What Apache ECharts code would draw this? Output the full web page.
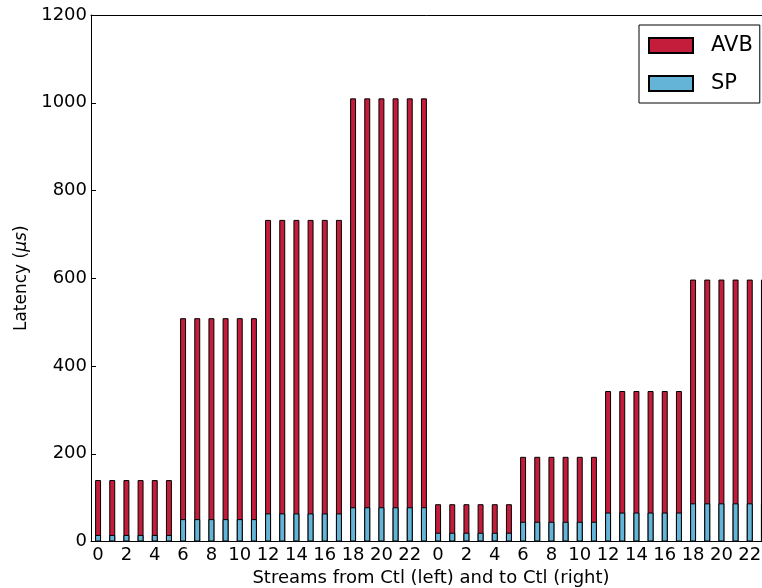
<!DOCTYPE html>
<html>
<head>
<meta charset="utf-8">
<script src="https://cdn.jsdelivr.net/npm/echarts@6/dist/echarts.min.js"></script>
<style>
  html, body { margin: 0; padding: 0; background: #fff; }
  #chart { width: 762px; height: 588px; }
</style>
</head>
<body>
<div id="chart"></div>
<script>
// stream ids, left half = from Ctl, right half = to Ctl
var streams = ['0','1','2','3','4','5','6','7','8','9','10','11','12','13','14','15','16','17','18','19','20','21','22','23',
               '0','1','2','3','4','5','6','7','8','9','10','11','12','13','14','15','16','17','18','19','20','21','22','23'];

// latency in us
var avb = [140,140,140,140,140,140, 509,509,509,509,509,509, 733,733,733,733,733,733, 1010,1010,1010,1010,1010,1010,
           85,85,85,85,85,85, 193,193,193,193,193,193, 343,343,343,343,343,343, 597,597,597,597,597,597];
var sp  = [15,15,15,15,15,15, 51,51,51,51,51,51, 64,64,64,64,64,64, 78,78,78,78,78,78,
           20,20,20,20,20,20, 45,45,45,45,45,45, 66,66,66,66,66,66, 87,87,87,87,87,87];

var yTicks = [0, 200, 400, 600, 800, 1000, 1200];

var font = 'DejaVu Sans';
var chart = echarts.init(document.getElementById('chart'));

var option = {
    animation: false,
    textStyle: { fontFamily: font },
    // plot runs past the right edge of the picture, like the cropped original
    grid: { left: 91, top: 15, height: 526.5, width: 680, outerBoundsMode: 'none', containLabel: false },
    legend: {
        orient: 'vertical',
        left: 639,
        top: 25,
        padding: [10, 7, 9, 9],
        itemGap: 17,
        itemWidth: 44,
        itemHeight: 15,
        borderColor: '#000',
        borderWidth: 1,
        borderRadius: 0,
        icon: 'rect',
        textStyle: { fontFamily: font, fontSize: 21, color: '#000', padding: [0, 0, 0, 13] },
        data: ['AVB', 'SP']
    },
    xAxis: [{
        type: 'category',
        data: streams,
        name: 'Streams from Ctl (left) and to Ctl (right)',
        nameLocation: 'middle',
        nameGap: 27,
        nameTextStyle: { fontFamily: font, fontSize: 18, color: '#000' },
        axisLine: { lineStyle: { color: '#000', width: 1 } },
        axisTick: { inside: true, length: 5, interval: 1, alignWithLabel: true, lineStyle: { color: '#000' } },
        axisLabel: { interval: 1, fontFamily: font, fontSize: 18, color: '#000', margin: 5, hideOverlap: false },
        splitLine: { show: false }
    }, {
        type: 'category',
        data: streams,
        position: 'top',
        axisLine: { lineStyle: { color: '#000', width: 1 } },
        axisTick: { inside: true, length: 5, interval: 1, alignWithLabel: true, lineStyle: { color: '#000' } },
        axisLabel: { show: false },
        splitLine: { show: false }
    }],
    yAxis: {
        type: 'value',
        min: yTicks[0],
        max: yTicks[yTicks.length - 1],
        interval: 200,
        name: '{a|Latency (}{b|μs}{a|)}',
        nameLocation: 'middle',
        nameGap: 60,
        nameRotate: 90,
        nameTextStyle: {
            rich: {
                a: { fontFamily: font, fontSize: 17, color: '#000' },
                b: { fontFamily: font, fontSize: 17, fontStyle: 'italic', color: '#000' }
            }
        },
        axisLine: { show: true, lineStyle: { color: '#000', width: 1 } },
        axisTick: { show: true, inside: true, length: 5, lineStyle: { color: '#000' } },
        axisLabel: {
            fontFamily: font, fontSize: 18, color: '#000', margin: 4,
            formatter: function (v) { return String(v); }
        },
        splitLine: { show: false }
    },
    series: [{
        name: 'AVB',
        type: 'bar',
        data: avb,
        barWidth: '42%',
        barGap: '-100%',
        itemStyle: { color: '#c41d3b', borderColor: '#000', borderWidth: 1 }
    }, {
        name: 'SP',
        type: 'bar',
        data: sp,
        barWidth: '42%',
        barGap: '-100%',
        itemStyle: { color: '#63b4d6', borderColor: '#000', borderWidth: 1 }
    }]
};

chart.setOption(option);
</script>
</body>
</html>
